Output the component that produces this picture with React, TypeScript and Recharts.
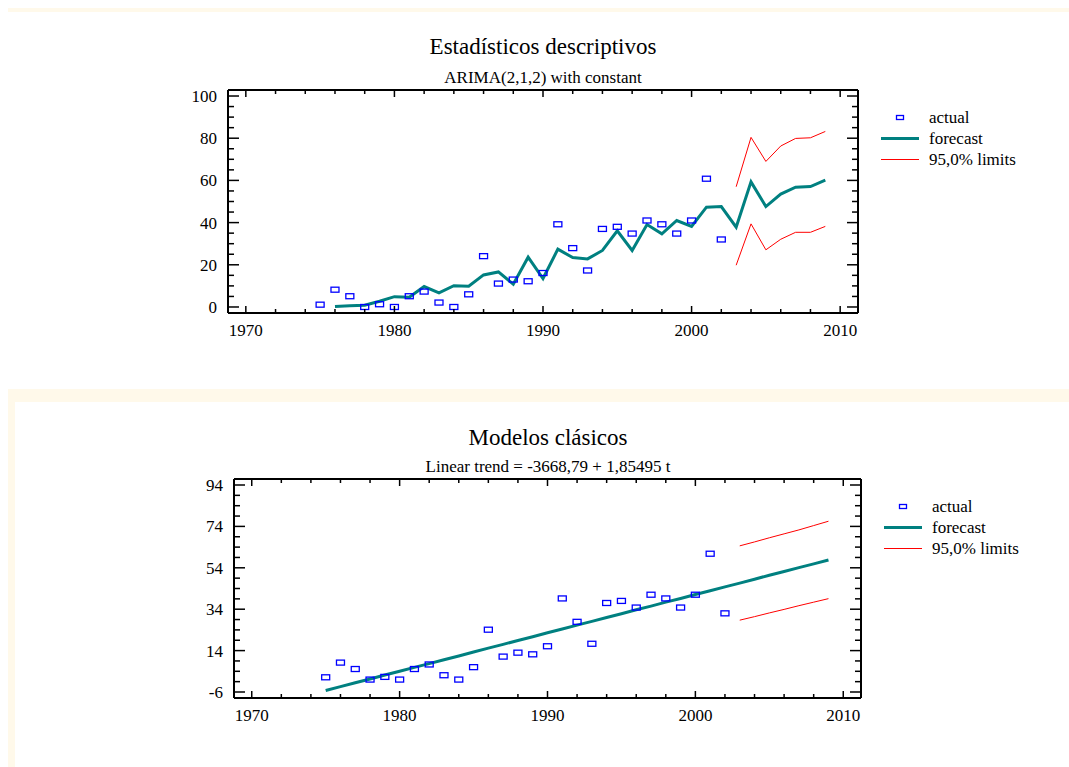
import { ComposedChart, Line, Scatter, XAxis, YAxis } from "recharts";

// observed series (same in both panels)
const actualYears = [
  1975, 1976, 1977, 1978, 1979, 1980, 1981, 1982, 1983, 1984, 1985, 1986, 1987, 1988,
  1989, 1990, 1991, 1992, 1993, 1994, 1995, 1996, 1997, 1998, 1999, 2000, 2001, 2002,
];
const actualValues = [
  1.1, 8.2, 5.1, 0.0, 1.3, 0.0, 5.1, 7.3, 2.1, 0.0, 6.0, 24.1, 11.1, 13.0,
  12.2, 16.1, 39.2, 27.9, 17.3, 37.0, 38.0, 34.8, 41.0, 39.2, 34.8, 41.0, 60.8, 32.0,
];

// ARIMA panel
const arimaYears = [
  1976, 1977, 1978, 1979, 1980, 1981, 1982, 1983, 1984, 1985, 1986, 1987, 1988, 1989,
  1990, 1991, 1992, 1993, 1994, 1995, 1996, 1997, 1998, 1999, 2000, 2001, 2002, 2003,
  2004, 2005, 2006, 2007, 2008, 2009,
];
const arimaForecast = [
  0.2, 0.6, 0.8, 2.7, 4.9, 4.6, 9.7, 6.7, 10.1, 9.8, 15.2, 16.6, 10.8, 23.6,
  13.5, 27.4, 23.4, 22.8, 26.8, 36.1, 26.8, 39.1, 34.7, 41.0, 38.2, 47.3, 47.6, 37.8,
  59.3, 47.6, 53.5, 56.8, 57.1, 60.1,
];
const limitYears = [2003, 2004, 2005, 2006, 2007, 2008, 2009];
const arimaUpper = [57.0, 80.4, 69.0, 76.3, 79.9, 80.2, 83.2];
const arimaLower = [19.8, 39.4, 27.1, 32.1, 35.4, 35.4, 38.2];

// linear trend panel
const trendYears = [
  1975, 1976, 1977, 1978, 1979, 1980, 1981, 1982, 1983, 1984, 1985, 1986, 1987, 1988,
  1989, 1990, 1991, 1992, 1993, 1994, 1995, 1996, 1997, 1998, 1999, 2000, 2001, 2002,
  2003, 2004, 2005, 2006, 2007, 2008, 2009,
];
const trendForecast = [
  -5.3, -3.4, -1.5, 0.3, 2.2, 4.0, 5.9, 7.7, 9.6, 11.4, 13.3, 15.2, 17.0, 18.9,
  20.7, 22.6, 24.4, 26.3, 28.1, 30.0, 31.8, 33.7, 35.5, 37.4, 39.2, 41.1, 42.9, 44.8,
  46.6, 48.5, 50.4, 52.2, 54.1, 55.9, 57.8,
];
const trendUpper = [64.6, 66.5, 68.5, 70.4, 72.3, 74.4, 76.5];
const trendLower = [28.7, 30.4, 32.2, 33.9, 35.7, 37.4, 39.1];

const xTicks = [
  1970, 1972, 1974, 1976, 1978, 1980, 1982, 1984, 1986, 1988, 1990,
  1992, 1994, 1996, 1998, 2000, 2002, 2004, 2006, 2008, 2010,
];
const arimaYTicks = [0, 5, 10, 15, 20, 25, 30, 35, 40, 45, 50, 55, 60, 65, 70, 75, 80, 85, 90, 95, 100];
const arimaMajor = [0, 20, 40, 60, 80, 100];
const trendYTicks = [-6, -1, 4, 9, 14, 19, 24, 29, 34, 39, 44, 49, 54, 59, 64, 69, 74, 79, 84, 89, 94];
const trendMajor = [-6, 14, 34, 54, 74, 94];

const zip = (xs: number[], ys: number[], key: string) =>
  xs.map((x, i) => ({ year: x, [key]: ys[i] }));

const FONT = "'Liberation Serif', 'Times New Roman', serif";
const TEAL = "#008080";

const Box = (props: any) => {
  const { cx, cy } = props;
  if (cx == null || cy == null) return null;
  return (
    <rect x={cx - 4} y={cy - 2.5} width={8} height={5} fill="none" stroke="#0000ff" strokeWidth={1.3} />
  );
};

function makeTick(side: string, major: number[], showLabel: boolean) {
  return (props: any) => {
    const { x, y, payload } = props;
    const v = payload.value;
    const isMajor = major.includes(v);
    const xLen = isMajor ? 7 : 4;
    const yLen = isMajor ? 11 : 6;
    if (side === "bottom")
      return (
        <g>
          <line x1={x} x2={x} y1={y} y2={y - xLen} stroke="#000" strokeWidth={1.5} />
          {showLabel && isMajor && (
            <text x={x} y={y + 23} textAnchor="middle" fontSize={17} fontFamily={FONT} fill="#000">
              {v}
            </text>
          )}
        </g>
      );
    if (side === "top")
      return <line x1={x} x2={x} y1={y} y2={y + xLen} stroke="#000" strokeWidth={1.5} />;
    if (side === "left")
      return (
        <g>
          <line x1={x} x2={x + yLen} y1={y} y2={y} stroke="#000" strokeWidth={1.5} />
          {showLabel && isMajor && (
            <text x={x - 11} y={y + 6} textAnchor="end" fontSize={17} fontFamily={FONT} fill="#000">
              {v}
            </text>
          )}
        </g>
      );
    return <line x1={x} x2={x - yLen} y1={y} y2={y} stroke="#000" strokeWidth={1.5} />;
  };
}

const xMajor = [1970, 1980, 1990, 2000, 2010];
const axisLine = { stroke: "#000", strokeWidth: 2 };

interface PanelProps {
  top: number;
  margin: { top: number; right: number; bottom: number; left: number };
  yDomain: [number, number];
  yTicks: number[];
  yMajor: number[];
  forecast: any[];
  upper: any[];
  lower: any[];
}

function Panel({ top, margin, yDomain, yTicks, yMajor, forecast, upper, lower }: PanelProps) {
  const actual = zip(actualYears, actualValues, "actual");
  return (
    <div style={{ position: "absolute", left: 0, top }}>
      <ComposedChart width={1069} height={360} margin={margin}>
        <XAxis
          xAxisId={0}
          dataKey="year"
          type="number"
          domain={[1968.8, 2011.2]}
          allowDataOverflow
          ticks={xTicks}
          interval={0}
          height={30}
          tickSize={0}
          tickMargin={0}
          tickLine={false}
          axisLine={axisLine}
          tick={makeTick("bottom", xMajor, true)}
        />
        <XAxis
          xAxisId="top"
          orientation="top"
          dataKey="year"
          type="number"
          domain={[1968.8, 2011.2]}
          allowDataOverflow
          ticks={xTicks}
          interval={0}
          height={10}
          tickSize={0}
          tickMargin={0}
          tickLine={false}
          axisLine={axisLine}
          tick={makeTick("top", xMajor, false)}
        />
        <YAxis
          yAxisId={0}
          type="number"
          domain={yDomain}
          allowDataOverflow
          ticks={yTicks}
          interval={0}
          width={40}
          tickSize={0}
          tickMargin={0}
          tickLine={false}
          axisLine={axisLine}
          tick={makeTick("left", yMajor, true)}
        />
        <YAxis
          yAxisId="right"
          orientation="right"
          type="number"
          domain={yDomain}
          allowDataOverflow
          ticks={yTicks}
          interval={0}
          width={10}
          tickSize={0}
          tickMargin={0}
          tickLine={false}
          axisLine={axisLine}
          tick={makeTick("right", yMajor, false)}
        />
        <Line data={upper} dataKey="upper" stroke="#ff0000" strokeWidth={1} dot={false} isAnimationActive={false} />
        <Line data={lower} dataKey="lower" stroke="#ff0000" strokeWidth={1} dot={false} isAnimationActive={false} />
        <Line data={forecast} dataKey="forecast" stroke={TEAL} strokeWidth={3} dot={false} isAnimationActive={false} />
        <Scatter data={actual} dataKey="actual" shape={Box} isAnimationActive={false} />
      </ComposedChart>
    </div>
  );
}

function LegendBox({ left, top }: { left: number; top: number }) {
  const rows = [
    { label: "actual", kind: "box" },
    { label: "forecast", kind: "teal" },
    { label: "95,0% limits", kind: "red" },
  ];
  return (
    <div style={{ position: "absolute", left, top, fontFamily: FONT, fontSize: 17 }}>
      {rows.map((r) => (
        <div key={r.label} style={{ height: 21, lineHeight: "21px", display: "flex", whiteSpace: "nowrap" }}>
          <svg width={48} height={21}>
            {r.kind === "box" && (
              <rect x={15.5} y={8.5} width={7} height={4} fill="none" stroke="#0000ff" strokeWidth={1.3} />
            )}
            {r.kind === "teal" && <line x1={0} x2={38} y1={10.5} y2={10.5} stroke={TEAL} strokeWidth={3} />}
            {r.kind === "red" && <line x1={0} x2={38} y1={10.5} y2={10.5} stroke="#ff0000" strokeWidth={1} />}
          </svg>
          <span>{r.label}</span>
        </div>
      ))}
    </div>
  );
}

const titleStyle = (top: number, center: number, size: number): React.CSSProperties => ({
  position: "absolute",
  left: center - 300,
  width: 600,
  top,
  textAlign: "center",
  fontFamily: FONT,
  fontSize: size,
  lineHeight: 1,
  color: "#000",
  whiteSpace: "nowrap",
});

export default function App() {
  const cream = "#fff9ea";
  return (
    <div
      style={{
        position: "absolute",
        left: 0,
        top: 0,
        width: 1069,
        height: 767,
        overflow: "hidden",
        background: "#fff",
      }}
    >
      <div style={{ position: "absolute", left: 8, top: 8, width: 1061, height: 4, background: cream }} />
      <div style={{ position: "absolute", left: 8, top: 389, width: 1061, height: 13, background: cream }} />
      <div style={{ position: "absolute", left: 8, top: 389, width: 7, height: 378, background: cream }} />

      <div style={titleStyle(35, 543, 23)}>Estadísticos descriptivos</div>
      <div style={titleStyle(69, 543, 17)}>ARIMA(2,1,2) with constant</div>
      <Panel
        top={0}
        margin={{ top: 80, right: 201, bottom: 17, left: 188 }}
        yDomain={[-2.85, 102.85]}
        yTicks={arimaYTicks}
        yMajor={arimaMajor}
        forecast={zip(arimaYears, arimaForecast, "forecast")}
        upper={zip(limitYears, arimaUpper, "upper")}
        lower={zip(limitYears, arimaLower, "lower")}
      />
      <LegendBox left={881} top={107} />

      <div style={titleStyle(426, 548, 23)}>Modelos clásicos</div>
      <div style={titleStyle(458, 548, 17)}>Linear trend = -3668,79 + 1,85495 t</div>
      <Panel
        top={380}
        margin={{ top: 89, right: 198, bottom: 12, left: 194 }}
        yDomain={[-8.9, 96.9]}
        yTicks={trendYTicks}
        yMajor={trendMajor}
        forecast={zip(trendYears, trendForecast, "forecast")}
        upper={zip(limitYears, trendUpper, "upper")}
        lower={zip(limitYears, trendLower, "lower")}
      />
      <LegendBox left={884} top={496} />
    </div>
  );
}
